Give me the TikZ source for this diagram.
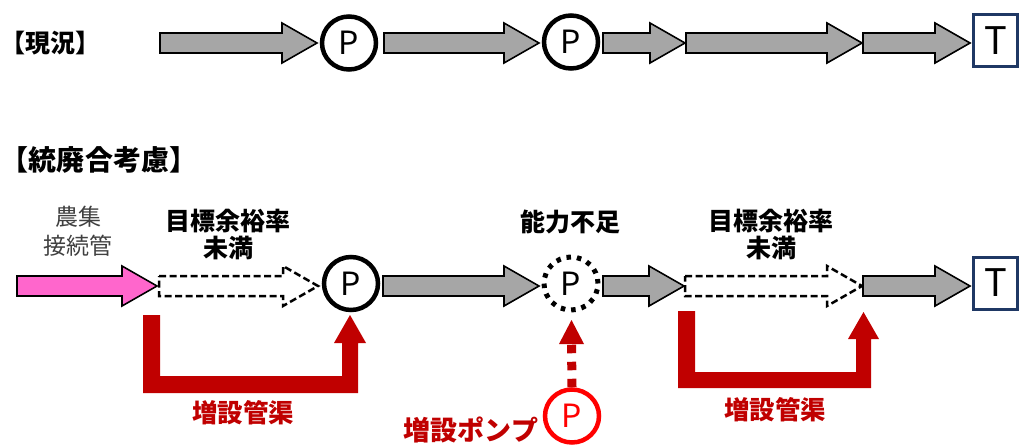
\documentclass[tikz,border=0pt]{standalone}
\usepackage{fontspec}
\newfontfamily\jp{Noto Sans CJK JP}
\usetikzlibrary{shapes.geometric,calc}
\definecolor{arrgray}{HTML}{A6A6A6}
\definecolor{pinkf}{HTML}{FF66CC}
\definecolor{dred}{HTML}{C00000}
\definecolor{navy}{HTML}{1F3864}
\definecolor{labgray}{HTML}{404040}
% block arrow: #1 style, #2 start coordinate, #3 tip coordinate
\newcommand\blockarr[3][]{\draw[#1] ($(#2)+(0,-10)$) -- ($(#3)+(-35,-10)$) -- ($(#3)+(-35,-20)$) -- (#3) -- ($(#3)+(-35,20)$) -- ($(#3)+(-35,10)$) -- ($(#2)+(0,10)$) -- cycle;}
\begin{document}
\begin{tikzpicture}[x=1pt,y=-1pt,
  garrow/.style={fill=arrgray,draw=black,line width=1.6pt,line join=miter},
  parrow/.style={fill=pinkf,draw=black,line width=1.6pt,line join=miter},
  darrow/.style={fill=white,draw=black,line width=2.5pt,dash pattern=on 7pt off 3.5pt},
  pump/.style={ellipse,draw=black,line width=4.5pt,minimum width=54pt,minimum height=53pt,inner sep=0pt,font=\jp\fontsize{32}{32}\selectfont},
  tank/.style={rectangle,draw=navy,line width=3pt,minimum width=44pt,minimum height=52pt,inner sep=0pt,font=\jp\fontsize{38}{38}\selectfont},
  title/.style={font=\jp\bfseries\fontsize{25}{25}\selectfont,inner sep=0pt},
  lab/.style={font=\jp\bfseries\fontsize{25}{27}\selectfont,align=center,inner sep=0pt},
  redlab/.style={font=\jp\bfseries\fontsize{25.5}{25.5}\selectfont,text=dred,inner sep=0pt},
  redpipe/.style={fill=dred,draw=none}]
\useasboundingbox (0,0) rectangle (1019,444);

% ---------- top row ----------
\node[title] (t1) at (51,43) {【現況】};
\node[pump] (P1) at (349,43) {P};
\node[pump] (P2) at (571,42) {P};
\node[tank] (T1) at (995.5,40.5) {T};
\coordinate (a1s) at (160,43); \coordinate (a1e) at (317,43);
\coordinate (a2s) at (384,43); \coordinate (a2e) at (539,43);
\coordinate (a3s) at (603,43); \coordinate (a3e) at (685,43);
\coordinate (a4s) at (686,43); \coordinate (a4e) at (862,43);
\coordinate (a5s) at (863,43); \coordinate (a5e) at (970,43);
\blockarr[garrow]{a1s}{a1e}
\blockarr[garrow]{a2s}{a2e}
\blockarr[garrow]{a3s}{a3e}
\blockarr[garrow]{a4s}{a4e}
\blockarr[garrow]{a5s}{a5e}

% ---------- bottom row ----------
\node[title,font=\jp\bfseries\fontsize{28}{28}\selectfont] (t2) at (99,160) {【統廃合考慮】};
\node[font=\jp\fontsize{23}{29}\selectfont,text=labgray,align=center,inner sep=0pt] (l0) at (78,231) {農集\\接続管};
\node[lab] (l1) at (228,234) {目標余裕率\\未満};
\node[lab] (l2) at (570,222) {能力不足};
\node[lab] (l3) at (771,234) {目標余裕率\\未満};

\node[pump] (P3) at (351,283.5) {P};
\node[pump,dash pattern=on 4.5pt off 6pt,line width=5pt] (P4) at (571,283.5) {P};
\node[tank] (T2) at (995.5,283) {T};

\coordinate (b1s) at (17,286);  \coordinate (b1e) at (157,286);
\coordinate (b2s) at (159,286); \coordinate (b2e) at (318,286);
\coordinate (b3s) at (383,286); \coordinate (b3e) at (539,286);
\coordinate (b4s) at (603,286); \coordinate (b4e) at (684,286);
\coordinate (b5s) at (685,286); \coordinate (b5e) at (862,286);
\coordinate (b6s) at (863,286); \coordinate (b6e) at (970,286);
\blockarr[parrow]{b1s}{b1e}
\blockarr[darrow]{b2s}{b2e}
\blockarr[garrow]{b3s}{b3e}
\blockarr[garrow]{b4s}{b4e}
\blockarr[darrow]{b5s}{b5e}
\blockarr[garrow]{b6s}{b6e}

% red bypass pipes
\fill[redpipe] (143,315) -- (160,315) -- (160,376) -- (342,376) -- (342,343) -- (334,343)
  -- (350,315) -- (366,343) -- (358,343) -- (358,393) -- (143,393) -- cycle;
\node[redlab] (r1) at (243,413) {増設管渠};

\fill[redpipe] (678,311) -- (695,311) -- (695,372) -- (856,372) -- (856,339) -- (848,339)
  -- (863.5,312) -- (879,339) -- (871,339) -- (871,388) -- (678,388) -- cycle;
\node[redlab] (r2) at (775,410) {増設管渠};

% additional pump
\node[pump,draw=red,text=red] (P5) at (572,416) {P};
\coordinate (hb) at (571.5,344);
\draw[dred,line width=9pt,dash pattern=on 8.5pt off 8.5pt] (P5.north) -- (hb);
\fill[dred] (559,344) -- (571.5,320) -- (584,344) -- cycle;
\node[redlab,font=\jp\bfseries\fontsize{27}{27}\selectfont] (r3) at (471,430) {増設ポンプ};
\end{tikzpicture}
\end{document}
